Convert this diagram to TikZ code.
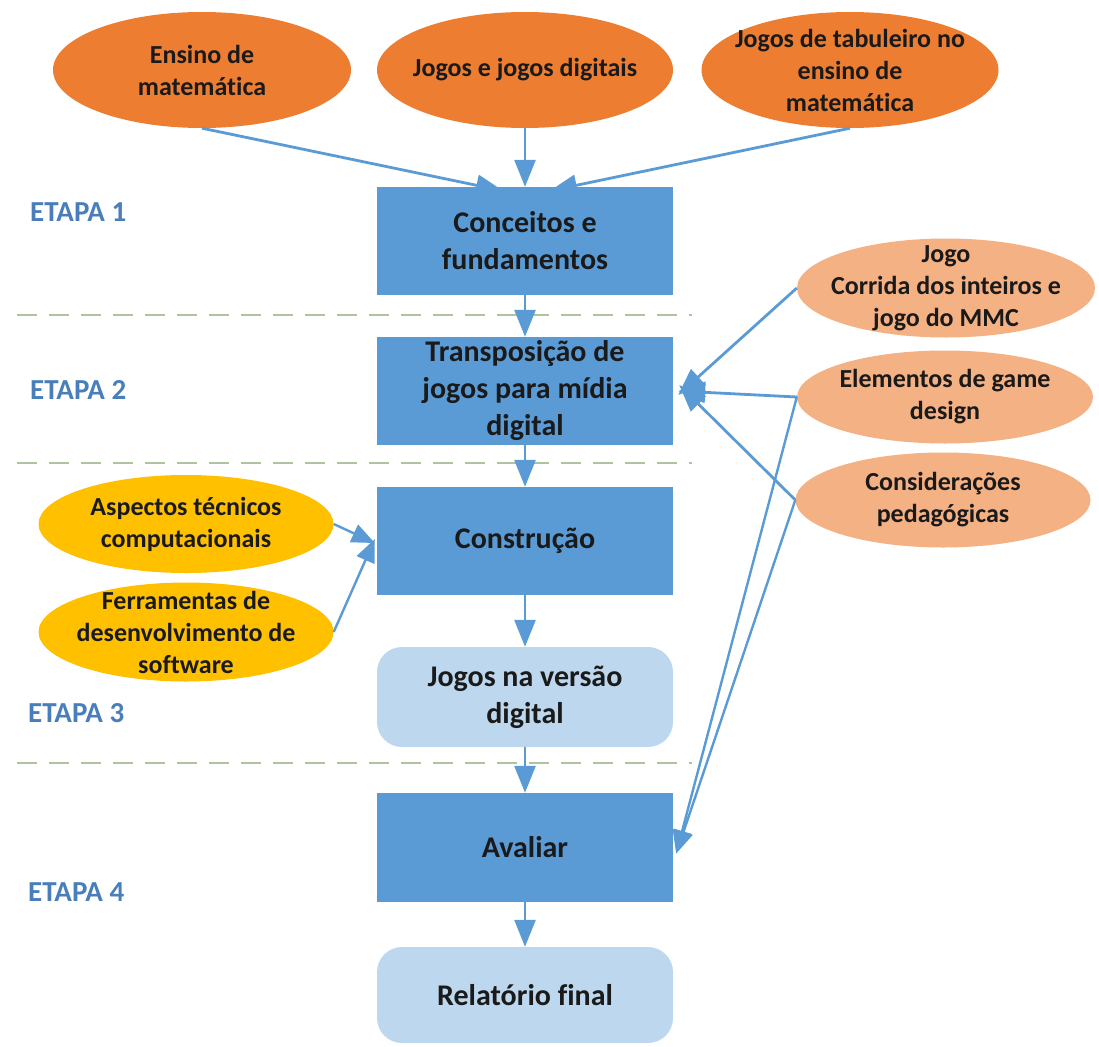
\documentclass[tikz,border=0pt]{standalone}
\usepackage{fontspec}
\setmainfont{Carlito}[Ligatures=NoCommon]
\usetikzlibrary{shapes.geometric,arrows.meta,calc}
\definecolor{orgA}{HTML}{ED7D31}
\definecolor{orgB}{HTML}{F4B183}
\definecolor{yel}{HTML}{FFC000}
\definecolor{bluD}{HTML}{5B9BD5}
\definecolor{bluL}{HTML}{BDD7EE}
\definecolor{etapac}{HTML}{4A7EBB}
\definecolor{dshc}{HTML}{ADC4A0}
\definecolor{txtc}{HTML}{1A1A1A}
\begin{document}
\begin{tikzpicture}[x=1pt,y=-1pt,
  ellbase/.style={ellipse, inner sep=0pt, minimum width=297pt},
  ellA/.style={ellbase, fill=orgA, minimum height=116pt},
  ellB/.style={ellbase, fill=orgB, minimum height=97pt},
  ellY/.style={ellbase, fill=yel, minimum width=295pt, minimum height=98pt},
  etxt/.style={font=\fontsize{26}{32}\selectfont\bfseries, text=txtc, align=center, inner sep=0pt},
  dbox/.style={rectangle, fill=bluD, minimum width=296pt, minimum height=108pt, inner sep=0pt,
    font=\fontsize{30}{37}\selectfont\bfseries, text=txtc, align=center},
  lbox/.style={dbox, fill=bluL, rounded corners=25pt, minimum height=100pt},
  etapa/.style={anchor=west, inner sep=0pt, font=\fontsize{29}{34}\selectfont\bfseries, text=etapac},
  arr/.style={draw=bluD, line width=2.8pt, -{Triangle[length=27pt,width=21pt]}},
  arrs/.style={draw=bluD, line width=2.4pt, -{Triangle[length=23pt,width=19pt]}},
  dashln/.style={draw=dshc, line width=2.6pt, dash pattern=on 20pt off 12pt}
]
\useasboundingbox (0,0) rectangle (1099,1046);

% dashed separators
\coordinate (d1a) at (17,315);  \coordinate (d1b) at (692,315);
\coordinate (d2a) at (17,463);  \coordinate (d2b) at (692,463);
\coordinate (d3a) at (17,763);  \coordinate (d3b) at (692,763);
\draw[dashln] (d1a) -- (d1b);
\draw[dashln] (d2a) -- (d2b);
\draw[dashln] (d3a) -- (d3b);

% top ellipses
\node[ellA, minimum width=298pt] (ens) at (202,70) {};
\node[etxt] (enst) at (ens) {Ensino de\\matemática};
\node[ellA, minimum width=296pt] (jog) at (525,70) {};
\node[etxt] (jogt) at (jog) {Jogos e jogos digitais};
\node[ellA] (tab) at (850,70) {};
\node[etxt] (tabt) at (tab) {Jogos de tabuleiro no\\ensino de\\matemática};

% main column
\node[dbox] (conc) at (525,241) {Conceitos e\\fundamentos};
\node[dbox] (trans) at (525,391) {Transposição de\\jogos para mídia\\digital};
\node[dbox] (cons) at (525,541) {Construção};
\node[lbox] (jdig) at (525,697) {Jogos na versão\\digital};
\node[dbox, minimum height=109pt] (aval) at (525,847.5) {Avaliar};
\node[lbox, minimum height=96pt] (rel) at (525,995) {Relatório final};

% right ellipses
\node[ellB, minimum width=298pt, minimum height=99pt] (cor) at (946,288) {};
\node[etxt] (cort) at (cor) {Jogo\\Corrida dos inteiros e\\jogo do MMC};
\node[ellB, minimum width=296pt, minimum height=93pt] (elem) at (945,397) {};
\node[etxt] (elemt) at (elem) {Elementos de game\\design};
\node[ellB, minimum width=295pt, minimum height=95pt] (cped) at (943,500) {};
\node[etxt] (cpedt) at (cped) {Considerações\\pedagógicas};

% yellow ellipses
\node[ellY] (asp) at (186,524) {};
\node[etxt] (aspt) at (asp) {Aspectos técnicos\\computacionais};
\node[ellY, minimum height=99pt] (fer) at (186,632) {};
\node[etxt] (fert) at (fer) {Ferramentas de\\desenvolvimento de\\software};

% stage labels
\node[etapa] (e1) at (30,212) {ETAPA 1};
\node[etapa] (e2) at (30,390) {ETAPA 2};
\node[etapa] (e3) at (28,713) {ETAPA 3};
\node[etapa] (e4) at (28,892) {ETAPA 4};

% connectors
\draw[arr] (ens.south) -- ($(conc.north)+(-22,4)$);
\draw[arr] (jog.south) -- (conc.north);
\draw[arr] (tab.south) -- ($(conc.north)+(25,4)$);
\draw[arr] (conc.south) -- (trans.north);
\draw[arr] (trans.south) -- (cons.north);
\draw[arr] (cons.south) -- (jdig.north);
\draw[arr] (jdig.south) -- (aval.north);
\draw[arr] (aval.south) -- (rel.north);

\draw[arr] (cor.west) -- ($(trans.east)+(5,4)$);
\draw[arr] (elem.west) -- ($(trans.east)+(5,0)$);
\draw[arr] (cped.west) -- ($(trans.east)+(6,-6)$);
\draw[arrs] (elem.west) -- ($(aval.east)+(3,6)$);
\draw[arrs] (cped.west) -- ($(aval.east)+(3,6)$);

\draw[arrs] (asp.east) -- ($(cons.west)+(-2,2)$);
\draw[arrs] (fer.east) -- ($(cons.west)+(-2,-2)$);
\end{tikzpicture}
\end{document}
